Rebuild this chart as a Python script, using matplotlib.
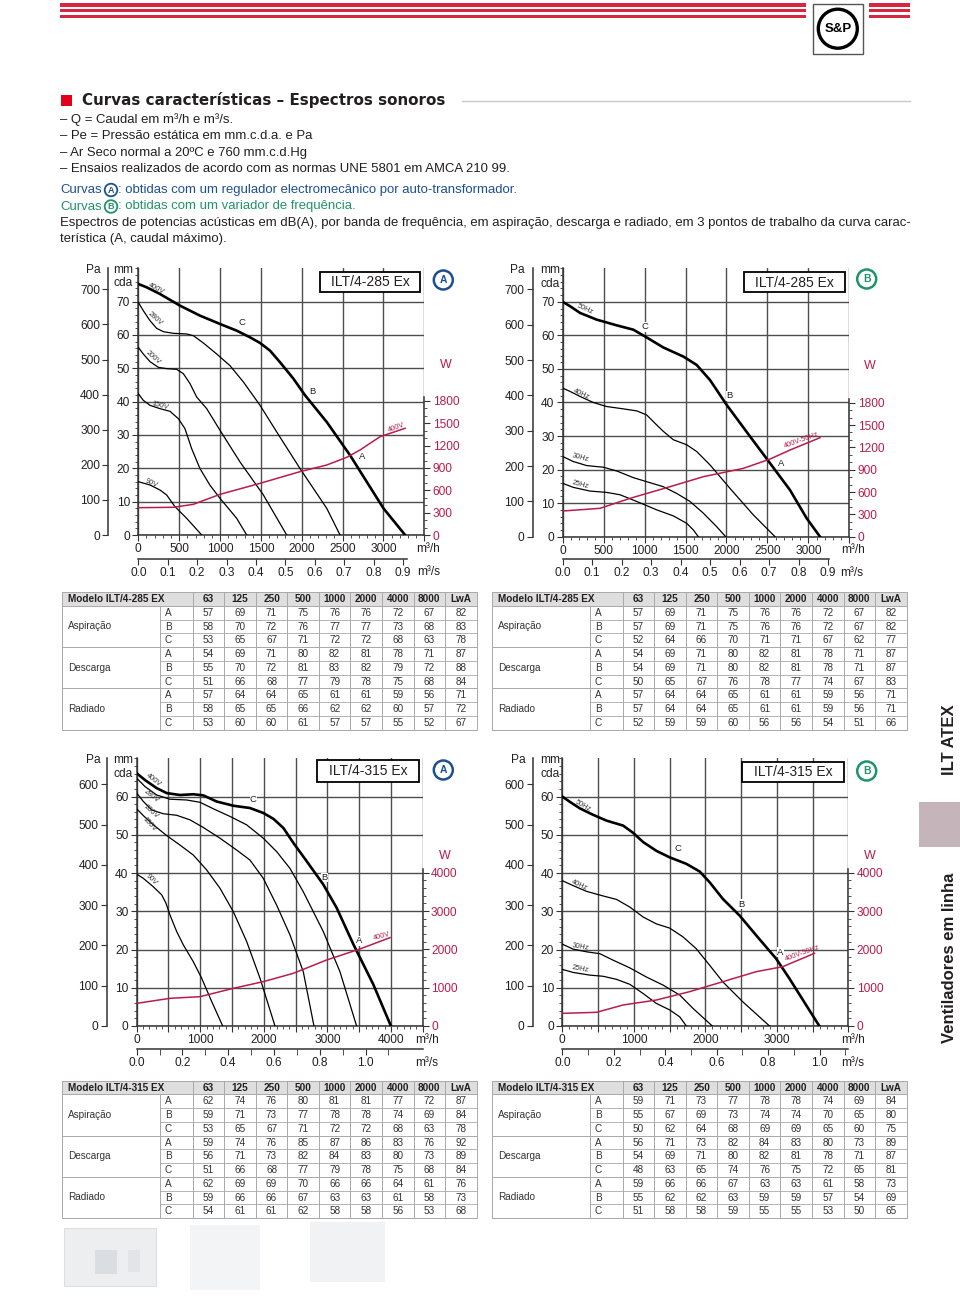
import numpy as np
import matplotlib.pyplot as plt
from matplotlib.ticker import MultipleLocator, FixedLocator
from matplotlib.patches import Rectangle, Circle

plt.rcParams['font.family'] = ['Liberation Sans', 'DejaVu Sans']

W, H = 960, 1313
RED = '#d7263d'
CRIM = '#b81d4a'
BLUE = '#1d4f91'
GREEN = '#1f9466'
INK = '#231f20'
GRID = '#4d4d4d'

# ---- curve data (Q in m3/h, Pe in mm c.d.a., power in W) ----
# ILT/4-285 Ex, curves A (auto-transformer)
c1_400v_q = [0, 102, 265, 510, 755, 1000, 1204, 1367, 1490, 1612, 1735, 1898, 2041, 2306, 2592, 3000, 3265]
c1_400v_p = [75.3, 74.3, 72.3, 68.8, 65.8, 63.3, 61.3, 59.3, 57.6, 55.3, 51.8, 46.9, 41.9, 33.9, 23.9, 8.0, 0]
c1_280v_q = [0, 61, 143, 224, 306, 429, 592, 673, 796, 959, 1122, 1286, 1490, 1694, 1980, 2306, 2469]
c1_280v_p = [69.8, 67.3, 64.3, 62.0, 61.0, 60.5, 60.3, 59.8, 57.6, 54.3, 50.8, 45.9, 38.9, 30.9, 19.9, 8.0, 0]
c1_200v_q = [0, 61, 143, 245, 347, 469, 551, 633, 714, 837, 1000, 1245, 1531, 1816]
c1_200v_p = [56.3, 54.3, 52.0, 50.3, 49.9, 49.7, 48.4, 45.4, 41.4, 37.9, 31.4, 21.9, 12.0, 0]
c1_150v_q = [0, 61, 143, 265, 388, 490, 571, 653, 755, 878, 1000, 1204, 1327]
c1_150v_p = [42.4, 40.4, 38.9, 37.9, 37.1, 34.9, 31.9, 25.9, 19.9, 14.9, 11.0, 5.0, 0]
c1_90v_q = [0, 143, 265, 347, 449, 592, 776]
c1_90v_p = [16.0, 15.0, 13.5, 12.0, 8.5, 5.0, 0]
c1_w_q = [0, 429, 673, 1000, 1490, 1980, 2306, 2551, 2714, 2959, 3265]
c1_w = [367, 372, 412, 546, 694, 851, 940, 1043, 1142, 1321, 1433]

# ILT/4-285 Ex, curves B (frequency drive)
c2_50hz_q = [0, 90, 212, 415, 659, 863, 1025, 1229, 1473, 1636, 1799, 2002, 2287, 2532, 2776, 2979, 3142]
c2_50hz_p = [70, 68.7, 66.7, 64.7, 63.0, 61.7, 59.4, 56.4, 53.7, 51.2, 46.7, 39.3, 29.9, 21.9, 13.9, 5.5, 0]
c2_40hz_q = [0, 90, 212, 374, 537, 741, 904, 1025, 1127, 1229, 1351, 1514, 1636, 1799, 2043, 2328, 2593]
c2_40hz_p = [44.3, 43.3, 41.8, 40.0, 38.8, 38.1, 37.5, 36.3, 33.8, 31.4, 28.9, 27.4, 25.4, 21.4, 14.4, 6.5, 0]
c2_30hz_q = [0, 130, 293, 497, 659, 863, 1066, 1229, 1392, 1555, 1718, 1880, 1990]
c2_30hz_p = [23.9, 22.4, 21.2, 20.7, 19.6, 17.6, 16.1, 14.9, 12.9, 10.5, 7.0, 3.0, 0]
c2_25hz_q = [0, 130, 334, 537, 700, 904, 1148, 1351, 1514, 1596, 1656]
c2_25hz_p = [15.9, 14.7, 13.6, 13.2, 12.5, 10.5, 8.0, 6.2, 4.0, 2.0, 0]
c2_w_q = [0, 456, 822, 1311, 1718, 2206, 2532, 2776, 3142]
c2_w = [345, 381, 515, 672, 806, 918, 1043, 1164, 1330]

# ILT/4-315 Ex, curves A
c3_400v_q = [0, 131, 315, 472, 682, 891, 1049, 1258, 1520, 1782, 1992, 2149, 2307, 2464, 2674, 2936, 3146, 3408, 3722, 4000]
c3_400v_p = [66.1, 64.3, 62.2, 60.9, 60.4, 60.6, 60.3, 58.7, 57.6, 57.0, 55.7, 54.2, 51.8, 47.9, 43.1, 37.0, 30.9, 21.4, 10.9, 0]
c3_280v_q = [0, 131, 315, 524, 786, 996, 1206, 1468, 1730, 1992, 2202, 2412, 2621, 2936, 3198, 3460]
c3_280v_p = [64.8, 62.6, 60.4, 59.3, 59.1, 58.5, 56.8, 54.8, 52.6, 49.1, 45.6, 41.2, 35.1, 24.7, 14.2, 0]
c3_200v_q = [0, 105, 236, 419, 629, 839, 1049, 1311, 1573, 1782, 1992, 2202, 2412, 2621, 2789]
c3_200v_p = [60.9, 58.7, 56.5, 55.5, 55.1, 53.9, 51.9, 49.1, 46.0, 43.4, 38.6, 31.6, 23.8, 14.2, 0]
c3_150v_q = [0, 105, 262, 472, 682, 891, 1101, 1311, 1520, 1730, 1940, 2176]
c3_150v_p = [56.8, 55.0, 52.6, 49.8, 47.3, 44.7, 40.8, 36.0, 29.9, 22.1, 12.5, 0]
c3_90v_q = [0, 105, 262, 393, 461, 524, 629, 734, 891, 1022, 1180, 1353]
c3_90v_p = [39.7, 38.6, 36.4, 34.3, 32.1, 29.0, 24.7, 21.2, 16.8, 12.5, 6.4, 0]
c3_w_q = [0, 524, 996, 1520, 1992, 2464, 2988, 3512, 3984]
c3_w = [591, 722, 765, 983, 1157, 1374, 1722, 2009, 2304]

# ILT/4-315 Ex, curves B
c4_50hz_q = [0, 107, 247, 433, 619, 851, 991, 1130, 1316, 1502, 1735, 1921, 2060, 2247, 2479, 2712, 2991, 3177, 3409, 3595]
c4_50hz_p = [60, 58.6, 56.9, 55.2, 53.7, 52.4, 50.5, 48.1, 45.8, 44.1, 42.4, 40.4, 37.6, 33.2, 28.9, 23.7, 17.6, 12.4, 5.5, 0]
c4_40hz_q = [0, 153, 340, 572, 758, 944, 1130, 1316, 1502, 1688, 1874, 2060, 2247, 2526, 2898]
c4_40hz_p = [38.0, 36.7, 35.2, 34.0, 33.1, 31.1, 28.5, 26.7, 25.6, 23.3, 20.2, 15.9, 11.5, 6.3, 0]
c4_30hz_q = [0, 153, 340, 526, 712, 944, 1177, 1409, 1642, 1828, 2098]
c4_30hz_p = [21.4, 20.1, 19.4, 18.9, 17.2, 15.2, 12.8, 10.7, 8.1, 4.6, 0]
c4_25hz_q = [0, 153, 386, 572, 758, 944, 1130, 1316, 1502, 1642, 1735]
c4_25hz_p = [14.8, 14.0, 13.3, 13.0, 12.2, 10.9, 8.5, 5.9, 4.2, 2.4, 0]
c4_w_q = [0, 479, 851, 1316, 1781, 2247, 2712, 3084, 3526]
c4_w = [330, 357, 548, 678, 896, 1157, 1417, 1548, 1896]

# ---- sound power tables, dB(A) ----
bands = ['63', '125', '250', '500', '1000', '2000', '4000', '8000', 'LwA']
t1_asp = [[57, 69, 71, 75, 76, 76, 72, 67, 82], [58, 70, 72, 76, 77, 77, 73, 68, 83], [53, 65, 67, 71, 72, 72, 68, 63, 78]]
t1_desc = [[54, 69, 71, 80, 82, 81, 78, 71, 87], [55, 70, 72, 81, 83, 82, 79, 72, 88], [51, 66, 68, 77, 79, 78, 75, 68, 84]]
t1_rad = [[57, 64, 64, 65, 61, 61, 59, 56, 71], [58, 65, 65, 66, 62, 62, 60, 57, 72], [53, 60, 60, 61, 57, 57, 55, 52, 67]]
t2_asp = [[57, 69, 71, 75, 76, 76, 72, 67, 82], [57, 69, 71, 75, 76, 76, 72, 67, 82], [52, 64, 66, 70, 71, 71, 67, 62, 77]]
t2_desc = [[54, 69, 71, 80, 82, 81, 78, 71, 87], [54, 69, 71, 80, 82, 81, 78, 71, 87], [50, 65, 67, 76, 78, 77, 74, 67, 83]]
t2_rad = [[57, 64, 64, 65, 61, 61, 59, 56, 71], [57, 64, 64, 65, 61, 61, 59, 56, 71], [52, 59, 59, 60, 56, 56, 54, 51, 66]]
t3_asp = [[62, 74, 76, 80, 81, 81, 77, 72, 87], [59, 71, 73, 77, 78, 78, 74, 69, 84], [53, 65, 67, 71, 72, 72, 68, 63, 78]]
t3_desc = [[59, 74, 76, 85, 87, 86, 83, 76, 92], [56, 71, 73, 82, 84, 83, 80, 73, 89], [51, 66, 68, 77, 79, 78, 75, 68, 84]]
t3_rad = [[62, 69, 69, 70, 66, 66, 64, 61, 76], [59, 66, 66, 67, 63, 63, 61, 58, 73], [54, 61, 61, 62, 58, 58, 56, 53, 68]]
t4_asp = [[59, 71, 73, 77, 78, 78, 74, 69, 84], [55, 67, 69, 73, 74, 74, 70, 65, 80], [50, 62, 64, 68, 69, 69, 65, 60, 75]]
t4_desc = [[56, 71, 73, 82, 84, 83, 80, 73, 89], [54, 69, 71, 80, 82, 81, 78, 71, 87], [48, 63, 65, 74, 76, 75, 72, 65, 81]]
t4_rad = [[59, 66, 66, 67, 63, 63, 61, 58, 73], [55, 62, 62, 63, 59, 59, 57, 54, 69], [51, 58, 58, 59, 55, 55, 53, 50, 65]]

fig = plt.figure(figsize=(9.6, 13.13), dpi=100)


def rect(x0, y0, x1, y1):
    return [x0 / W, 1 - y1 / H, (x1 - x0) / W, (y1 - y0) / H]


def pixel_axes():
    a = fig.add_axes([0, 0, 1, 1])
    a.set_xlim(0, W)
    a.set_ylim(H, 0)
    a.axis('off')
    a.patch.set_alpha(0)
    return a


page = pixel_axes()

# top stripes + logo
for yt in [3.3, 9.0, 14.8]:
    page.add_patch(Rectangle((60, yt), 746, 3.4, fc=RED, ec='none'))
    page.add_patch(Rectangle((869, yt), 41, 3.4, fc=RED, ec='none'))
page.add_patch(Rectangle((812.5, 3.5), 50.5, 50.5, fc='white', ec='#555555', lw=1.0))
page.add_patch(Circle((837.8, 28.7), 19.5, fc='white', ec='black', lw=2.4))
page.text(837.8, 29.5, 'S&P', ha='center', va='center', fontsize=9.5, fontweight='bold', color='black')

# header
page.add_patch(Rectangle((61, 95), 11, 11, fc='#e3001b', ec='none'))
page.text(82, 100.5, 'Curvas características – Espectros sonoros', fontsize=10.9,
          fontweight='bold', va='center', color=INK, family='DejaVu Sans')
page.plot([462, 910], [100.5, 100.5], color='#c8c8c8', lw=1.0)

FS = 9.45
lines = ['– Q = Caudal em m³/h e m³/s.',
         '– Pe = Pressão estática em mm.c.d.a. e Pa',
         '– Ar Seco normal a 20ºC e 760 mm.c.d.Hg',
         '– Ensaios realizados de acordo com as normas UNE 5801 em AMCA 210 99.']
for i, s in enumerate(lines):
    page.text(60, 120 + i * 16.3, s, fontsize=FS, va='center', color=INK)


def circled(x, y, letter, col, r=6.3, fs=6.5, lw=1.3):
    page.add_patch(Circle((x, y), r, fc='white', ec=col, lw=lw, zorder=5))
    page.text(x, y + 0.3, letter, ha='center', va='center', fontsize=fs, color=col,
              fontweight='bold', zorder=6)


page.text(60, 190, 'Curvas', fontsize=FS, va='center', color=BLUE)
circled(111, 190, 'A', BLUE)
page.text(117.5, 190, ': obtidas com um regulador electromecânico por auto-transformador.',
          fontsize=FS, va='center', color=BLUE)
page.text(60, 206.5, 'Curvas', fontsize=FS, va='center', color=GREEN)
circled(111, 206.5, 'B', GREEN)
page.text(117.5, 206.5, ': obtidas com um variador de frequência.', fontsize=FS, va='center', color=GREEN)
page.text(60, 223, 'Espectros de potencias acústicas em dB(A), por banda de frequência, em aspiração, '
          'descarga e radiado, em 3 pontos de trabalho da curva carac-', fontsize=FS, va='center', color=INK)
page.text(60, 239, 'terística (A, caudal máximo).', fontsize=FS, va='center', color=INK)

# side tab
page.text(949, 740, 'ILT ATEX', rotation=90, ha='center', va='center', fontsize=12,
          fontweight='bold', color=INK)
page.add_patch(Rectangle((919, 802), 41, 45, fc='#c5b4ba', ec='none'))
page.text(949, 958, 'Ventiladores em linha', rotation=90, ha='center', va='center', fontsize=12,
          fontweight='bold', color=INK)

# faded product photo at the bottom
page.add_patch(Rectangle((64, 1228), 92, 58, fc='#eceef0', ec='#dcdfe2', lw=0.8))
page.add_patch(Rectangle((95, 1250), 22, 24, fc='#dadde1', ec='none'))
page.add_patch(Rectangle((128, 1250), 12, 22, fc='#e2e4e7', ec='none'))
page.add_patch(Rectangle((190, 1225), 70, 65, fc='#f3f4f6', ec='none'))
page.add_patch(Rectangle((310, 1222), 75, 60, fc='#f1f2f4', ec='none'))


# tables
def table(x0, y0, model, asp, desc, rad):
    rh = 13.75
    widths = [98, 33] + [31.55] * 9
    xs = x0 + np.concatenate([[0], np.cumsum(widths)])
    xe = xs[-1]
    yb = y0 + rh * 10
    lc = '#a9a9a9'
    page.add_patch(Rectangle((x0, y0), xe - x0, rh, fc='#dedede', ec='none'))
    page.add_patch(Rectangle((x0, y0), xe - x0, yb - y0, fc='none', ec=lc, lw=0.7))
    page.plot([x0, xe], [y0 + rh, y0 + rh], color=lc, lw=0.7)
    for g in range(3):
        yg = y0 + rh * (1 + 3 * g)
        page.plot([x0, xe], [yg + 3 * rh, yg + 3 * rh], color=lc, lw=0.7)
        for k in (1, 2):
            page.plot([xs[1], xe], [yg + k * rh, yg + k * rh], color=lc, lw=0.6)
    page.plot([xs[1], xs[1]], [y0 + rh, yb], color=lc, lw=0.7)
    for xv in xs[2:-1]:
        page.plot([xv, xv], [y0, yb], color=lc, lw=0.7)
    page.text(x0 + 6, y0 + rh / 2 + 0.3, model, fontsize=7.2, fontweight='bold', va='center', color=INK)
    for j, b in enumerate(bands):
        page.text((xs[j + 2] + xs[j + 3]) / 2, y0 + rh / 2 + 0.3, b, fontsize=7.2, fontweight='bold',
                  ha='center', va='center', color=INK)
    for g, (name, vals) in enumerate([('Aspiração', asp), ('Descarga', desc), ('Radiado', rad)]):
        yg = y0 + rh * (1 + 3 * g)
        page.text(x0 + 6, yg + 1.5 * rh, name, fontsize=7.2, va='center', color='#333333')
        for r, letter in enumerate('ABC'):
            yc = yg + (r + 0.5) * rh + 0.3
            page.text(xs[1] + 5, yc, letter, fontsize=7.2, va='center', color='#333333')
            for j, v in enumerate(vals[r]):
                page.text((xs[j + 2] + xs[j + 3]) / 2, yc, str(v), fontsize=7.2, ha='center',
                          va='center', color='#333333')


table(61.7, 592, 'Modelo ILT/4-285 EX', t1_asp, t1_desc, t1_rad)
table(491.7, 592, 'Modelo ILT/4-285 EX', t2_asp, t2_desc, t2_rad)
table(61.7, 1080.5, 'Modelo ILT/4-315 EX', t3_asp, t3_desc, t3_rad)
table(491.7, 1080.5, 'Modelo ILT/4-315 EX', t4_asp, t4_desc, t4_rad)

top_layer = []


def chart(box, pa_x, s_y, xmax, ymax, wmax, wtop, wlabels, wminor, xlabels, s_major, s_minor,
          s_end, curves, power, tags, ptag, letters, title_box, title, badge, bcol, txt):
    x0, y0, x1, y1 = box
    ax = fig.add_axes(rect(*box))
    ax.set_xlim(0, xmax)
    ax.set_ylim(0, ymax)
    xt = np.arange(0, xmax + 1, 500)
    ax.set_xticks(xt)
    ax.set_xticklabels([str(int(v)) if int(v) in xlabels else '' for v in xt])
    ax.set_yticks(np.arange(0, ymax, 10))
    ax.xaxis.set_minor_locator(MultipleLocator(100))
    ax.yaxis.set_minor_locator(MultipleLocator(2))
    ax.grid(True, which='major', color=GRID, lw=1.0)
    for s in ['top', 'right']:
        ax.spines[s].set_visible(False)
    for s in ['left', 'bottom']:
        ax.spines[s].set_color('#333333')
        ax.spines[s].set_linewidth(1.1)
    ax.tick_params(which='both', direction='out', colors='#333333', labelcolor=INK, labelsize=8.6)
    ax.tick_params(which='major', length=4)
    ax.tick_params(which='minor', length=2.5)
    ax.tick_params(axis='y', pad=2)
    ax.tick_params(axis='x', pad=2)

    # first curve is the full-speed one, drawn heavier
    for i, (q, p) in enumerate(curves):
        ax.plot(q, p, color='black', lw=1.9 if i == 0 else 0.9, solid_joinstyle='round', zorder=3)
    for q, p, s, rot in tags:
        ax.text(q, p, s, rotation=rot, fontsize=5.3, color='#333333', ha='center', va='center', zorder=4)
    # point letters sit on a white patch that hides the grid but stays under the curves
    for q, p, s in letters:
        ax.text(q, p, s, fontsize=6.8, color='#222222', ha='center', va='center', zorder=2.5,
                bbox=dict(fc='white', ec='none', pad=0.3))

    # Pa axis
    pa = ax.twinx()
    pa.set_ylim(0, ymax * 9.5)
    pa.yaxis.set_ticks_position('left')
    for s in ['top', 'right', 'bottom']:
        pa.spines[s].set_visible(False)
    pa.spines['left'].set_position(('outward', (x0 - pa_x) * 0.72))
    pa.spines['left'].set_color('#333333')
    pa.spines['left'].set_linewidth(1.1)
    pa.set_yticks(np.arange(0, ymax * 9.5, 100))
    pa.tick_params(direction='out', length=4, colors='#333333', labelcolor=INK, labelsize=8.6, pad=2)

    # power axis
    w = ax.twinx()
    w.set_ylim(0, wmax)
    for s in ['top', 'left', 'bottom']:
        w.spines[s].set_visible(False)
    w.spines['right'].set_bounds(0, wtop)
    w.spines['right'].set_color('#333333')
    w.spines['right'].set_linewidth(1.1)
    w.set_yticks(wlabels)
    w.yaxis.set_minor_locator(FixedLocator(np.arange(0, wtop, wminor)))
    w.tick_params(which='both', direction='out', colors='#333333', labelcolor=CRIM, labelsize=8.6, pad=2)
    w.tick_params(which='major', length=4)
    w.tick_params(which='minor', length=2.5)
    w.plot(power[0], power[1], color=CRIM, lw=1.1, solid_joinstyle='round', zorder=3)
    w.text(ptag[0], ptag[1], ptag[2], rotation=ptag[3], fontsize=5.3, color=CRIM, ha='center', va='center')

    # m3/s axis
    sax = fig.add_axes(rect(x0, s_y - 1, x1, s_y))
    sax.set_xlim(0, xmax / 3600)
    sax.set_ylim(0, 1)
    sax.patch.set_alpha(0)
    for s in ['top', 'left', 'right']:
        sax.spines[s].set_visible(False)
    sax.spines['bottom'].set_bounds(0, s_end)
    sax.spines['bottom'].set_color('#333333')
    sax.spines['bottom'].set_linewidth(1.1)
    sax.set_yticks([])
    sax.set_xticks(s_major)
    sax.set_xticklabels(['%.1f' % v for v in s_major])
    if s_minor:
        sax.xaxis.set_minor_locator(FixedLocator(s_minor))
    sax.tick_params(which='both', direction='out', colors='#333333', labelcolor=INK, labelsize=8.6, pad=2)
    sax.tick_params(which='major', length=4)
    sax.tick_params(which='minor', length=4)

    top_layer.append((title_box, title, badge, bcol, txt))


chart((138.3, 268.3, 424.3, 535), 108.3, 559, 3500, 80, 3582, 1850, [0, 300, 600, 900, 1200, 1500, 1800], 100,
      [0, 500, 1000, 1500, 2000, 2500, 3000], np.round(np.arange(0, 0.95, 0.1), 1), None, 0.915,
      [(c1_400v_q, c1_400v_p), (c1_280v_q, c1_280v_p), (c1_200v_q, c1_200v_p),
       (c1_150v_q, c1_150v_p), (c1_90v_q, c1_90v_p)], (c1_w_q, c1_w),
      [(224, 73.8, '400V', -28), (204, 64.8, '280V', -42), (184, 53.3, '200V', -42),
       (265, 38.9, '150V', -15), (163, 15.5, '90V', -25)],
      (3163, 1442, '400V', 20), [(1265, 63.6, 'C'), (2130, 43.1, 'B'), (2740, 23.4, 'A')],
      (320, 271.7, 420, 291.7), 'ILT/4-285 Ex', (443.3, 280), BLUE,
      [('Pa', 93, 270), ('mm', 123, 270), ('cda', 123, 283), ('m³/h', 428, 549), ('m³/s', 429, 572),
       ('W', 446, 365)])
chart((562.7, 268.3, 849.3, 536.7), 532.7, 559, 3500, 80, 3605, 1850, [0, 300, 600, 900, 1200, 1500, 1800], 100,
      [0, 500, 1000, 1500, 2000, 2500, 3000], np.round(np.arange(0, 0.95, 0.1), 1), None, 0.905,
      [(c2_50hz_q, c2_50hz_p), (c2_40hz_q, c2_40hz_p), (c2_30hz_q, c2_30hz_p), (c2_25hz_q, c2_25hz_p)],
      (c2_w_q, c2_w),
      [(273, 67.7, '50Hz', -25), (232, 42.5, '40Hz', -25), (220, 23.4, '30Hz', -15), (220, 15.4, '25Hz', -15)],
      (2918, 1290, '400V-50Hz', 20), [(1005, 62.6, 'C'), (2040, 42, 'B'), (2670, 21.9, 'A')],
      (744, 272.3, 845, 292.3), 'ILT/4-285 Ex', (866.7, 279), GREEN,
      [('Pa', 517, 270), ('mm', 550, 270), ('cda', 550, 284), ('m³/h', 853, 550), ('m³/s', 852, 573),
       ('W', 870, 366)])
chart((136.7, 758.3, 422.7, 1026), 106.7, 1049, 4500, 70, 6984, 4100, [0, 1000, 2000, 3000, 4000], 200,
      [0, 1000, 2000, 3000, 4000], [0.0, 0.2, 0.4, 0.6, 0.8, 1.0], [0.1, 0.3, 0.5, 0.7, 0.9, 1.1], 1.25,
      [(c3_400v_q, c3_400v_p), (c3_280v_q, c3_280v_p), (c3_200v_q, c3_200v_p),
       (c3_150v_q, c3_150v_p), (c3_90v_q, c3_90v_p)], (c3_w_q, c3_w),
      [(262, 64.3, '400V', -38), (236, 60.0, '280V', -38), (220, 56.0, '200V', -42),
       (199, 52.6, '150V', -48), (236, 38.2, '90V', -45)],
      (3853, 2330, '400V', 15), [(1835, 59.2, 'C'), (2960, 38.8, 'B'), (3500, 22.3, 'A')],
      (317.3, 760, 419.3, 781.7), 'ILT/4-315 Ex', (443.3, 770), BLUE,
      [('Pa', 93.3, 760), ('mm', 123.3, 760), ('cda', 123.3, 774), ('m³/h', 427, 1040), ('m³/s', 427, 1063),
       ('W', 445, 856)])
chart((562.3, 758.3, 848.3, 1026), 532.7, 1049, 4000, 70, 6984, 4100, [0, 1000, 2000, 3000, 4000], 200,
      [0, 1000, 2000, 3000], [0.0, 0.2, 0.4, 0.6, 0.8, 1.0], [0.1, 0.3, 0.5, 0.7, 0.9, 1.1], 1.11,
      [(c4_50hz_q, c4_50hz_p), (c4_40hz_q, c4_40hz_p), (c4_30hz_q, c4_30hz_p), (c4_25hz_q, c4_25hz_p)],
      (c4_w_q, c4_w),
      [(293, 57.6, '50Hz', -30), (237, 36.7, '40Hz', -25), (247, 20.7, '30Hz', -10), (256, 15.0, '25Hz', -10)],
      (3363, 1896, '400V-50Hz', 20), [(1619, 46.4, 'C'), (2510, 31.9, 'B'), (3047, 19.3, 'A')],
      (742.3, 761.7, 844, 781.7), 'ILT/4-315 Ex', (866.7, 771), GREEN,
      [('Pa', 518, 760), ('mm', 550, 760), ('cda', 550, 774), ('m³/h', 853, 1040), ('m³/s', 853, 1063),
       ('W', 870, 856)])

# title boxes, badges and axis captions above the chart axes
over = pixel_axes()
for (bx0, by0, bx1, by1), title, (cx, cy), bcol, txt in top_layer:
    over.add_patch(Rectangle((bx0, by0), bx1 - bx0, by1 - by0, fc='white', ec='black', lw=1.3))
    over.text((bx0 + bx1) / 2, (by0 + by1) / 2 + 0.5, title, ha='center', va='center', fontsize=10, color=INK)
    over.add_patch(Circle((cx, cy), 9.5, fc='white', ec=bcol, lw=1.8))
    over.text(cx, cy + 0.4, 'A' if bcol == BLUE else 'B', ha='center', va='center', fontsize=7.5,
              fontweight='bold', color=bcol)
    for s, tx, ty in txt:
        over.text(tx, ty, s, ha='center', va='center', fontsize=9 if s == 'W' else 8.6,
                  color=CRIM if s == 'W' else INK)

fig.savefig('out.png', dpi=100)
